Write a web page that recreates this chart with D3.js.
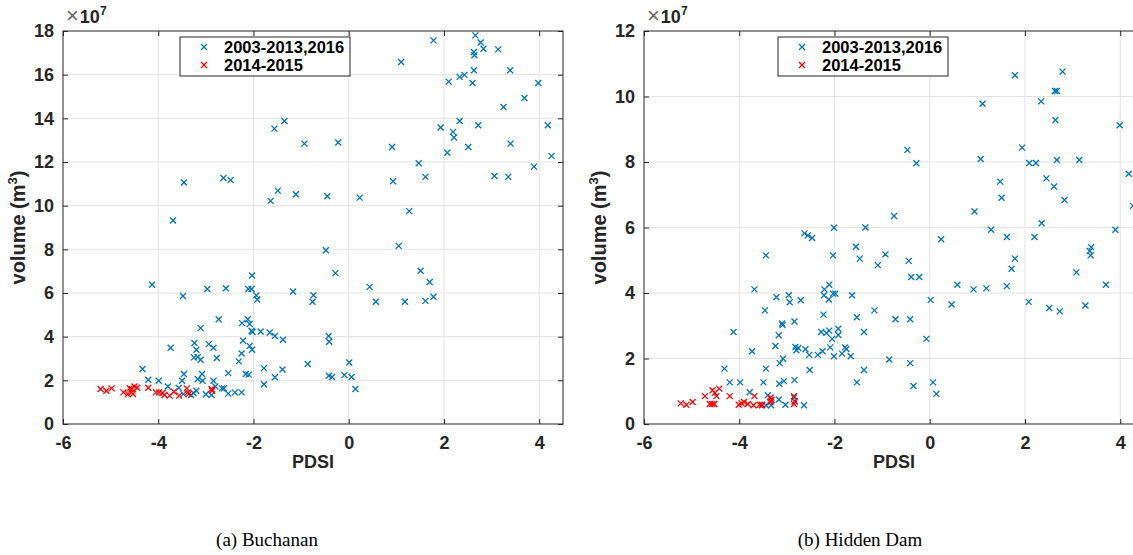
<!DOCTYPE html>
<html>
<head>
<meta charset="utf-8">
<script src="https://cdn.jsdelivr.net/npm/d3@7"></script>
<style>
  body { margin: 0; background: #fff; }
  svg text { font-family: "Liberation Sans", Arial, sans-serif; }
</style>
</head>
<body>
<svg id="fig" width="1133" height="555"></svg>
<script>
// Buchanan, normal years (PDSI, volume in 1e7 m^3)
const buchananBlueX = [2.66,1.78,2.77,2.83,3.14,2.63,2.64,1.10,2.63,3.39,2.33,2.43,2.10,2.60,3.98,3.69,3.25,2.33,-1.35,-1.56,1.93,2.72,4.18,2.19,2.21,-0.93,-0.22,3.40,0.91,2.51,2.07,4.26,1.47,3.89,3.06,3.35,1.61,-2.63,-2.48,-3.46,0.93,-1.49,-1.64,-1.11,-0.45,0.23,1.27,-3.69,1.05,-0.48,1.51,-0.28,-2.03,1.70,-4.13,0.44,-2.97,-2.58,-2.11,-2.04,-3.48,-1.17,-0.74,-0.76,-1.94,-1.92,1.78,0.57,1.18,1.61,-2.73,-2.12,-2.24,-2.08,-3.11,-2.04,-2.02,-1.85,-1.66,-1.55,-0.42,-0.41,-1.38,-2.22,-3.24,-2.94,-2.08,-3.74,-2.84,-3.20,-2.03,-2.25,-3.25,-3.17,-2.77,-3.11,-2.31,0.01,-0.86,-4.33,-1.78,-1.39,-3.46,-3.08,-2.53,-2.16,-2.10,-0.42,-0.35,-0.09,0.06,-1.55,-4.21,-3.99,-3.50,-3.17,-3.07,-2.84,-1.78,0.14,-3.80,-3.57,-2.80,-2.66,-2.62,-3.20,-3.00,-2.88,-2.53,-2.39,-2.25,-3.31,-3.26,-3.47];
const buchananBlueY = [17.8,17.57,17.47,17.19,17.16,17.04,16.89,16.58,16.2,16.2,15.9,15.99,15.68,15.62,15.62,14.93,14.52,13.88,13.88,13.53,13.58,13.68,13.68,13.38,13.12,12.84,12.89,12.84,12.69,12.69,12.42,12.28,11.94,11.79,11.36,11.32,11.32,11.27,11.17,11.06,11.12,10.69,10.22,10.52,10.43,10.37,9.75,9.32,8.16,7.96,7.02,6.91,6.80,6.50,6.38,6.28,6.18,6.22,6.18,6.18,5.86,6.07,5.90,5.60,5.89,5.70,5.83,5.60,5.60,5.64,4.80,4.80,4.62,4.58,4.39,4.27,4.21,4.24,4.19,4.03,4.03,3.77,3.86,3.81,3.71,3.66,3.58,3.49,3.49,3.40,3.40,3.23,3.05,3.07,3.02,2.94,2.87,2.82,2.75,2.52,2.56,2.50,2.29,2.29,2.33,2.29,2.26,2.21,2.15,2.24,2.15,2.14,2.03,1.98,1.98,2.06,1.98,1.98,1.82,1.60,1.72,1.66,1.72,1.63,1.63,1.52,1.36,1.33,1.39,1.45,1.45,1.33,1.42,1.37];
// Buchanan, drought years 2014-2015
const buchananRedX = [-5.21,-5.09,-4.98,-4.73,-4.64,-4.60,-4.56,-4.53,-4.50,-4.44,-4.56,-4.21,-4.05,-3.98,-3.91,-3.87,-3.76,-3.67,-3.56,-3.40,-3.38,-3.36,-2.88,-2.87];
const buchananRedY = [1.60,1.52,1.63,1.45,1.37,1.63,1.45,1.37,1.72,1.66,1.60,1.66,1.45,1.45,1.42,1.33,1.30,1.48,1.30,1.63,1.45,1.37,1.60,1.52];

// Hidden Dam, normal years
const hiddenBlueX = [2.79,1.79,2.63,2.67,1.11,2.34,2.64,3.99,1.94,-0.47,-0.28,1.07,2.09,2.23,2.67,3.14,4.18,1.48,2.45,2.61,1.51,2.83,4.27,0.94,-0.75,2.35,1.29,3.90,-2.01,-1.35,-2.63,-2.56,-2.47,0.24,1.62,2.20,3.36,3.39,3.38,-3.44,-2.03,-1.55,-1.47,-0.93,-1.09,1.79,-0.44,1.72,-0.39,-0.22,3.08,0.58,1.62,3.70,0.92,1.19,-3.68,-2.11,-2.21,-2.03,-1.98,-2.22,-2.12,-1.63,-3.22,-2.96,-2.94,-2.71,0.02,0.46,2.08,3.27,2.51,2.73,-3.46,-1.16,-2.23,-1.53,-0.72,-0.41,-2.84,-3.10,-3.09,-1.38,-2.28,-2.11,-1.92,-1.92,-2.17,-3.17,-2.05,-0.07,-3.24,-2.82,-2.76,-2.80,-2.61,-2.09,-1.78,-1.75,-3.73,-2.25,-2.35,-2.53,-1.84,-1.66,-2.01,-0.85,-3.08,-3.15,-0.41,-4.31,-3.44,-2.52,-1.38,-4.20,-3.98,-4.12,-3.49,-3.16,-3.06,-2.84,-1.53,0.07,-0.34,0.14,-3.78,-3.40,-3.17,-3.03,-2.85,-2.83,-2.64,-3.33,-3.52,-3.44,-3.33];
const hiddenBlueY = [10.76,10.65,10.17,10.17,9.78,9.85,9.28,9.12,8.44,8.37,7.96,8.09,7.97,7.97,8.06,8.06,7.64,7.40,7.50,7.25,6.91,6.84,6.66,6.49,6.35,6.13,5.93,5.93,5.99,6.00,5.82,5.76,5.68,5.64,5.71,5.71,5.28,5.40,5.15,5.15,5.15,5.41,5.05,5.18,4.85,5.05,4.98,4.74,4.49,4.49,4.63,4.25,4.21,4.25,4.11,4.14,4.11,4.25,4.11,3.98,3.98,3.93,3.80,3.93,3.87,3.93,3.72,3.78,3.79,3.65,3.73,3.62,3.54,3.44,3.47,3.47,3.34,3.26,3.20,3.20,3.13,3.07,3.02,2.81,2.81,2.85,2.91,2.72,2.78,2.71,2.60,2.60,2.38,2.35,2.32,2.25,2.28,2.34,2.34,2.29,2.22,2.22,2.11,2.11,2.15,2.07,2.07,1.97,1.99,1.86,1.86,1.69,1.69,1.65,1.65,1.27,1.27,2.81,1.27,1.23,1.31,1.34,1.27,1.27,1.16,0.92,0.97,0.88,0.75,0.59,0.81,0.69,0.57,0.69,0.59,0.57,0.57];
// Hidden Dam, drought years
const hiddenRedX = [-5.23,-5.11,-4.98,-4.72,-4.62,-4.57,-4.52,-4.56,-4.51,-4.48,-4.42,-4.20,-4.01,-3.95,-3.90,-3.82,-3.70,-3.68,-3.57,-3.52,-3.35,-3.34,-3.32,-2.85,-2.84,-2.85];
const hiddenRedY = [0.63,0.59,0.67,0.85,0.61,0.61,0.61,1.03,0.95,0.85,1.08,0.85,0.59,0.63,0.67,0.61,0.57,0.85,0.59,0.57,0.67,0.81,0.74,0.85,0.69,0.61];

const xTicks = [-6, -4, -2, 0, 2, 4];
const buchananYTicks = [0, 2, 4, 6, 8, 10, 12, 14, 16, 18];
const hiddenYTicks = [0, 2, 4, 6, 8, 10, 12];
const legendLabels = ["2003-2013,2016", "2014-2015"];
const captions = ["(a) Buchanan", "(b) Hidden Dam"];

const blue = "#0072BD", red = "#FF0000", ink = "#262626";
const sans = "'Liberation Sans', Arial, Helvetica, sans-serif";
const svg = d3.select("#fig");

function zip(xs, ys) { return xs.map((x, i) => [x, ys[i]]); }

function drawPanel(left, yMax, yTicks, blueSet, redSet, caption, legendLeft, captionX) {
  const top = 31, width = 500, height = 393;
  const g = svg.append("g").attr("transform", "translate(" + left + "," + top + ")");
  const x = d3.scaleLinear().domain([-6, 4.5]).range([0, width]);
  const y = d3.scaleLinear().domain([0, yMax]).range([height, 0]);

  // grid
  g.append("g").selectAll("line").data(xTicks.slice(1)).enter().append("line")
    .attr("x1", d => x(d)).attr("x2", d => x(d)).attr("y1", 0).attr("y2", height)
    .attr("stroke", "#e3e3e3");
  g.append("g").selectAll("line").data(yTicks.slice(1, -1)).enter().append("line")
    .attr("x1", 0).attr("x2", width).attr("y1", d => y(d)).attr("y2", d => y(d))
    .attr("stroke", "#e3e3e3");

  // axes, ticks inward on all four sides (plain hyphen minus like MATLAB)
  const fmt = d => String(d);
  const styleAxis = sel => {
    sel.attr("font-family", sans);
    sel.select(".domain").remove();
    sel.selectAll("line").attr("stroke", ink);
    sel.selectAll("text").attr("fill", ink).style("font-size", "18px").style("font-weight", "bold");
  };
  g.append("g").attr("transform", "translate(0," + height + ")")
    .call(d3.axisBottom(x).tickValues(xTicks).tickSize(-5).tickPadding(12).tickFormat(fmt))
    .call(styleAxis);
  g.append("g")
    .call(d3.axisTop(x).tickValues(xTicks).tickSize(-5).tickFormat(""))
    .call(styleAxis);
  g.append("g")
    .call(d3.axisLeft(y).tickValues(yTicks).tickSize(-5).tickPadding(9).tickFormat(fmt))
    .call(styleAxis);
  g.append("g").attr("transform", "translate(" + width + ",0)")
    .call(d3.axisRight(y).tickValues(yTicks).tickSize(-5).tickFormat(""))
    .call(styleAxis);
  g.append("rect").attr("width", width).attr("height", height)
    .attr("fill", "none").attr("stroke", ink).attr("stroke-width", 1);

  // exponent
  const ex = g.append("text").attr("x", 3).attr("y", -8).attr("fill", ink)
    .style("font-size", "18px");
  ex.append("tspan").text("\u00d7").attr("fill", "#666").style("font-size", "22px");
  ex.append("tspan").text("10").style("font-weight", "bold").attr("dx", 1);
  ex.append("tspan").text("7").attr("dy", -8).style("font-size", "12px").style("font-weight", "bold");

  // markers
  const cross = (sel, pts, color) => {
    sel.selectAll("path").data(pts).enter().append("path")
      .attr("transform", d => "translate(" + x(d[0]) + "," + y(d[1]) + ")")
      .attr("d", "M-3,-3L3,3M-3,3L3,-3")
      .attr("stroke", color).attr("stroke-width", 1.3).attr("fill", "none");
  };
  cross(g.append("g"), blueSet, blue);
  cross(g.append("g"), redSet, red);

  // labels
  g.append("text").attr("x", width / 2).attr("y", 437).attr("text-anchor", "middle")
    .attr("fill", ink).style("font-size", "18px").style("font-weight", "bold").text("PDSI");
  const yl = g.append("text").attr("transform", "translate(-38," + height / 2 + ") rotate(-90)")
    .attr("text-anchor", "middle").attr("fill", ink)
    .style("font-size", "20px").style("font-weight", "bold");
  yl.append("tspan").text("volume (m");
  yl.append("tspan").text("3").attr("dy", -8).style("font-size", "13px");
  yl.append("tspan").text(")").attr("dy", 8);

  // legend
  const lg = g.append("g").attr("transform", "translate(" + legendLeft + ",6)");
  lg.append("rect").attr("width", 170).attr("height", 39)
    .attr("fill", "#fff").attr("stroke", ink);
  [blue, red].forEach((c, i) => {
    lg.append("path").attr("transform", "translate(24," + (10 + i * 18) + ")")
      .attr("d", "M-3,-3L3,3M-3,3L3,-3").attr("stroke", c).attr("stroke-width", 1.3);
    lg.append("text").attr("x", 44).attr("y", 16 + i * 18)
      .style("font-size", "16.5px").style("font-weight", "bold").attr("fill", "#000")
      .text(legendLabels[i]);
  });

  svg.append("text").attr("x", captionX).attr("y", 546)
    .attr("text-anchor", "middle")
    .style("font-family", "'Liberation Serif', 'DejaVu Serif', serif")
    .style("font-size", "19px").attr("fill", "#000").text(caption);
}

drawPanel(63, 18, buchananYTicks, zip(buchananBlueX, buchananBlueY), zip(buchananRedX, buchananRedY), captions[0], 117, 267);
drawPanel(644, 12, hiddenYTicks, zip(hiddenBlueX, hiddenBlueY), zip(hiddenRedX, hiddenRedY), captions[1], 134, 860);
</script>
</body>
</html>
